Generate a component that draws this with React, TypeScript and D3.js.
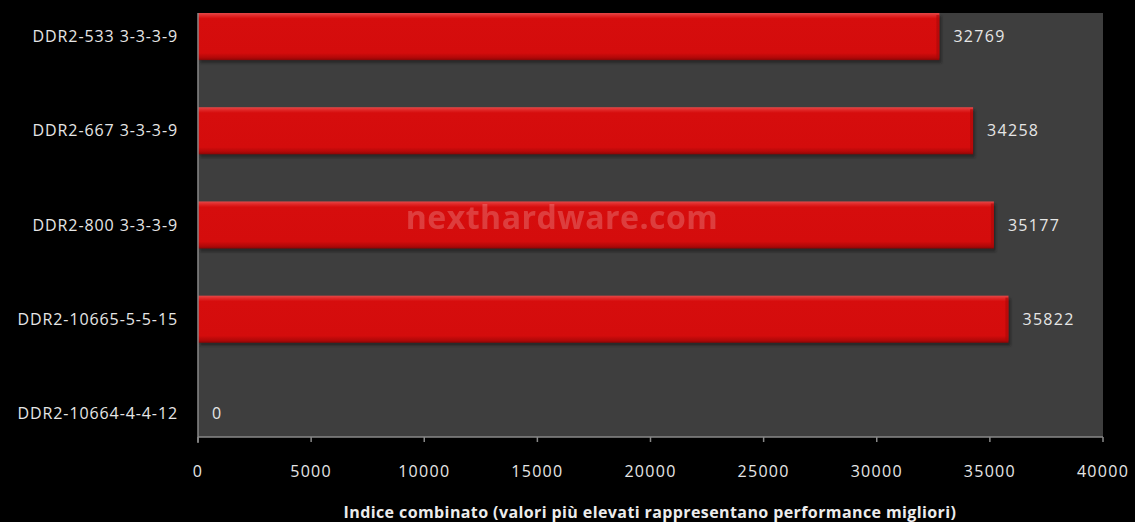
import React from "react";
import * as d3 from "d3";

const categories = [
  "DDR2-533 3-3-3-9",
  "DDR2-667 3-3-3-9",
  "DDR2-800 3-3-3-9",
  "DDR2-10665-5-5-15",
  "DDR2-10664-4-4-12",
];
const values = [32769, 34258, 35177, 35822, 0];
const xTicks = [0, 5000, 10000, 15000, 20000, 25000, 30000, 35000, 40000];
const axisTitle = "Indice combinato (valori più elevati rappresentano performance migliori)";
const watermark = "nexthardware.com";

const W = 1135;
const H = 522;
const left = 198;
const right = 1103;
const top = 13;
const bottom = 437;
const FONT = "'Open Sans', 'Noto Sans', sans-serif";

export default function App() {
  const x = d3.scaleLinear().domain([0, 40000]).range([left, right]);
  const y = d3
    .scaleBand<string>()
    .domain(categories)
    .range([top, bottom])
    .paddingInner(0.5)
    .paddingOuter(0);
  const bw = y.bandwidth();

  return (
    <svg
      width={W}
      height={H}
      style={{ position: "absolute", left: 0, top: 0, background: "#000" }}
    >
      <defs>
        <linearGradient id="barGrad" x1="0" y1="0" x2="0" y2="1">
          <stop offset="0" stopColor="#e24848" />
          <stop offset="0.06" stopColor="#e02626" />
          <stop offset="0.12" stopColor="#d60d0d" />
          <stop offset="0.85" stopColor="#d40c0c" />
          <stop offset="0.95" stopColor="#b00808" />
          <stop offset="1" stopColor="#8a0606" />
        </linearGradient>
        <filter id="blur1" x="-5%" y="-20%" width="110%" height="140%">
          <feGaussianBlur stdDeviation="1.2" />
        </filter>
      </defs>
      <rect x={0} y={0} width={W} height={H} fill="#000" />
      <rect x={left} y={top} width={right - left} height={bottom - top} fill="#3e3e3e" />

      {categories.map((c, i) => {
        const yy = y(c)!;
        const v = values[i];
        const w = x(v) - x(0);
        return (
          <g key={c}>
            {v > 0 && (
              <>
                <rect
                  x={x(0) + 2}
                  y={yy + 3}
                  width={w}
                  height={bw}
                  fill="#1a1a1a"
                  opacity={0.6}
                  filter="url(#blur1)"
                />
                <rect x={x(0)} y={yy} width={w} height={bw} fill="url(#barGrad)" />
                <rect
                  x={x(0) + w - 3}
                  y={yy + 2}
                  width={3}
                  height={bw - 4}
                  fill="#a80808"
                  opacity={0.6}
                />
              </>
            )}
            <text
              x={x(v) + 14}
              y={yy + bw / 2}
              dy="0.35em"
              fill="#e6e6e6"
              fontFamily={FONT}
              fontSize={16}
              letterSpacing={1.3}
            >
              {v}
            </text>
            <text
              x={left - 20}
              y={yy + bw / 2}
              dy="0.35em"
              textAnchor="end"
              fill="#e6e6e6"
              fontFamily={FONT}
              fontSize={16}
              letterSpacing={0.9}
            >
              {c}
            </text>
          </g>
        );
      })}

      <text
        x={562}
        y={218}
        dy="0.35em"
        textAnchor="middle"
        fill="#ffffff"
        opacity={0.2}
        fontFamily={FONT}
        fontWeight={700}
        fontSize={32}
        letterSpacing={0.5}
      >
        {watermark}
      </text>

      <line x1={left} x2={left} y1={top} y2={bottom + 6} stroke="#888" strokeWidth={1.5} />
      <line x1={left} x2={right} y1={bottom} y2={bottom} stroke="#888" strokeWidth={1.5} />
      {xTicks.map((t) => (
        <g key={t}>
          <line x1={x(t)} x2={x(t)} y1={bottom} y2={bottom + 5} stroke="#888" strokeWidth={1.5} />
          <text
            x={x(t)}
            y={471}
            dy="0.35em"
            textAnchor="middle"
            fill="#e6e6e6"
            fontFamily={FONT}
            fontSize={16}
            letterSpacing={1.3}
          >
            {t}
          </text>
        </g>
      ))}
      <text
        x={650}
        y={512}
        dy="0.35em"
        textAnchor="middle"
        fill="#ececec"
        fontFamily={FONT}
        fontWeight={700}
        fontSize={16}
        letterSpacing={0.4}
      >
        {axisTitle}
      </text>
    </svg>
  );
}
